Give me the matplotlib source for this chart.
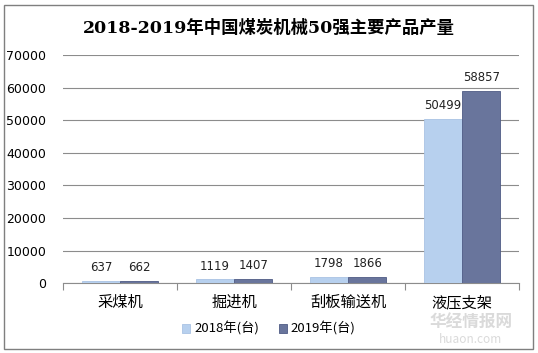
import numpy as np
import matplotlib.pyplot as plt
from matplotlib.patches import Rectangle

plt.rcParams['font.family'] = ['Noto Sans CJK SC', 'DejaVu Sans']

# data
categories = ["采煤机", "掘进机", "刮板输送机", "液压支架"]
series_names = ["2018年(台)", "2019年(台)"]
values_2018 = [637, 1119, 1798, 50499]
values_2019 = [662, 1407, 1866, 58857]
yticks = [0, 10000, 20000, 30000, 40000, 50000, 60000, 70000]

c2018 = "#B7D0EE"
c2019 = "#69759C"

fig = plt.figure(figsize=(5.38, 3.53), dpi=100)
ax = fig.add_axes([0.117, 0.198, 0.848, 0.646])

x = np.arange(len(categories))
w = 0.335
b1 = ax.bar(x - w / 2, values_2018, w, color=c2018, edgecolor="#A9C3E4", linewidth=0.6,
            label=series_names[0], zorder=3)
b2 = ax.bar(x + w / 2, values_2019, w, color=c2019, edgecolor="#4F5B85", linewidth=0.6,
            label=series_names[1], zorder=3)
for bars in (b1, b2):
    ax.bar_label(bars, padding=5, fontsize=8.5, family="DejaVu Sans", color="#222222")

ax.set_xlim(-0.5, len(categories) - 0.5)
ax.set_ylim(0, 70000)
ax.set_yticks(yticks)
ax.set_yticklabels([str(t) for t in yticks], family="DejaVu Sans", fontsize=9)
ax.grid(axis="y", color="#8C8C8C", linewidth=0.8, zorder=0)
ax.tick_params(axis="y", length=0, pad=12)

# category ticks sit at the group boundaries
ax.set_xticks(np.arange(len(categories) + 1) - 0.5)
ax.set_xticklabels([])
ax.set_xticks(x, minor=True)
ax.set_xticklabels(categories, minor=True, fontsize=11)
ax.tick_params(axis="x", which="major", length=5, color="#8C8C8C")
ax.tick_params(axis="x", which="minor", length=0, pad=8)

for s in ["top", "right", "left"]:
    ax.spines[s].set_visible(False)
ax.spines["bottom"].set_color("#8C8C8C")

fig.suptitle("2018-2019年中国煤炭机械50强主要产品产量", y=0.945, fontsize=12.5,
             fontweight="bold", family=["DejaVu Serif", "Noto Sans CJK SC"])

fig.legend(handles=[b1, b2], loc="center", bbox_to_anchor=(0.5, 0.068), ncol=2,
           frameon=False, fontsize=9.5, handlelength=0.6, handleheight=0.6,
           handletextpad=0.3, columnspacing=1.5)

# watermark
fig.text(0.875, 0.07, "华经情报网", fontsize=12, color="#DADADA", ha="center", fontweight="bold")
fig.text(0.875, 0.028, "huaon.com", fontsize=8.5, color="#DADADA", ha="center")

fig.patches.append(Rectangle((0.008, 0.012), 0.983, 0.975, transform=fig.transFigure,
                             fill=False, edgecolor="#7F7F7F", linewidth=1.0))

fig.savefig("out.png", dpi=100)
